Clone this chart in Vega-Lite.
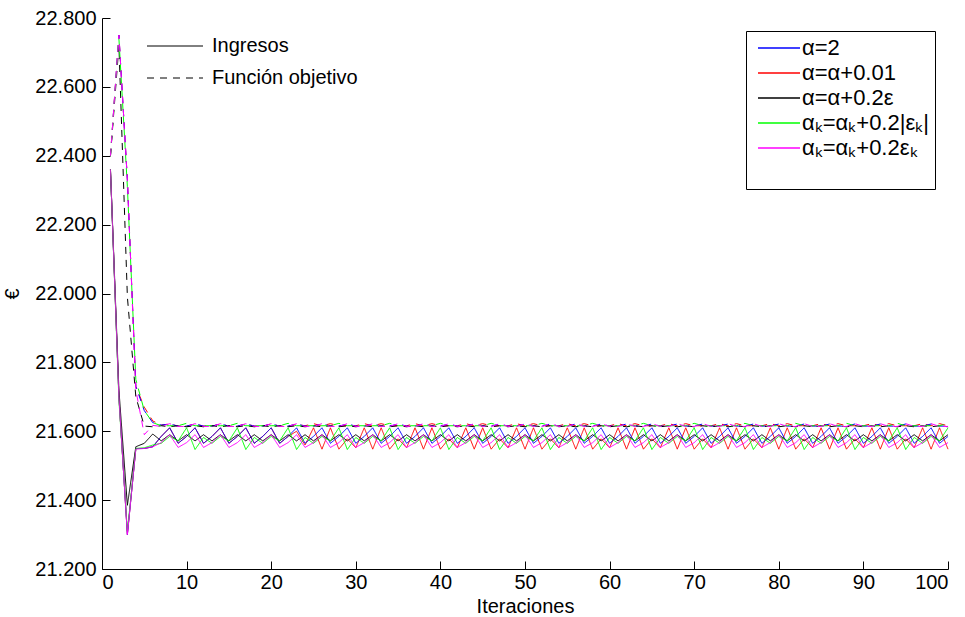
{
  "$schema": "https://vega.github.io/schema/vega-lite/v6.json",
  "width": 846,
  "height": 551,
  "autosize": {"type": "none"},
  "padding": {"left": 102, "top": 18, "right": 17, "bottom": 48},
  "background": "white",
  "config": {
    "view": {"stroke": null},
    "font": "Liberation Sans",
    "axis": {"domainColor": "black", "tickColor": "black", "labelColor": "black", "titleColor": "black", "labelFont": "Liberation Sans", "titleFont": "Liberation Sans", "labelFontSize": 20, "titleFontSize": 20, "titleFontWeight": "normal", "grid": false}
  },
  "data": {"values": [
    {"i":1,"b":22.36,"r":22.36,"k":22.36,"g":22.36,"m":22.36,"B":22.4,"R":22.4,"K":22.4,"G":22.4,"M":22.4},
    {"i":2,"b":21.7,"r":21.7,"k":21.72,"g":21.69,"m":21.7,"B":22.75,"R":22.75,"K":22.72,"G":22.74,"M":22.75},
    {"i":3,"b":21.3,"r":21.3,"k":21.385,"g":21.31,"m":21.3,"B":22.33,"R":22.33,"K":21.99,"G":22.31,"M":22.33},
    {"i":4,"b":21.55,"r":21.55,"k":21.555,"g":21.55,"m":21.548,"B":21.73,"R":21.73,"K":21.7,"G":21.75,"M":21.72},
    {"i":5,"b":21.55,"r":21.55,"k":21.565,"g":21.552,"m":21.55,"B":21.66,"R":21.67,"K":21.615,"G":21.66,"M":21.59},
    {"i":6,"b":21.555,"r":21.555,"k":21.592,"g":21.56,"m":21.555,"B":21.625,"R":21.63,"K":21.613,"G":21.625,"M":21.617},
    {"i":7,"b":21.585,"r":21.585,"k":21.572,"g":21.565,"m":21.567,"B":21.618,"R":21.618,"K":21.616,"G":21.616,"M":21.614},
    {"i":8,"b":21.61,"r":21.61,"k":21.59,"g":21.585,"m":21.59,"B":21.621,"R":21.621,"K":21.613,"G":21.616,"M":21.622},
    {"i":9,"b":21.565,"r":21.565,"k":21.572,"g":21.572,"m":21.553,"B":21.615,"R":21.615,"K":21.616,"G":21.616,"M":21.614},
    {"i":10,"b":21.585,"r":21.585,"k":21.59,"g":21.61,"m":21.567,"B":21.615,"R":21.615,"K":21.613,"G":21.623,"M":21.614},
    {"i":11,"b":21.61,"r":21.61,"k":21.572,"g":21.547,"m":21.59,"B":21.621,"R":21.621,"K":21.616,"G":21.616,"M":21.622},
    {"i":12,"b":21.565,"r":21.565,"k":21.59,"g":21.582,"m":21.553,"B":21.615,"R":21.615,"K":21.613,"G":21.616,"M":21.614},
    {"i":13,"b":21.585,"r":21.585,"k":21.572,"g":21.565,"m":21.567,"B":21.615,"R":21.615,"K":21.616,"G":21.616,"M":21.614},
    {"i":14,"b":21.61,"r":21.61,"k":21.59,"g":21.585,"m":21.59,"B":21.621,"R":21.621,"K":21.613,"G":21.616,"M":21.622},
    {"i":15,"b":21.565,"r":21.565,"k":21.572,"g":21.572,"m":21.553,"B":21.615,"R":21.615,"K":21.616,"G":21.616,"M":21.614},
    {"i":16,"b":21.585,"r":21.585,"k":21.59,"g":21.61,"m":21.567,"B":21.615,"R":21.615,"K":21.613,"G":21.623,"M":21.614},
    {"i":17,"b":21.61,"r":21.61,"k":21.572,"g":21.547,"m":21.59,"B":21.621,"R":21.621,"K":21.616,"G":21.616,"M":21.622},
    {"i":18,"b":21.565,"r":21.565,"k":21.59,"g":21.582,"m":21.553,"B":21.615,"R":21.615,"K":21.613,"G":21.616,"M":21.614},
    {"i":19,"b":21.585,"r":21.585,"k":21.572,"g":21.565,"m":21.567,"B":21.615,"R":21.615,"K":21.616,"G":21.616,"M":21.614},
    {"i":20,"b":21.61,"r":21.61,"k":21.59,"g":21.585,"m":21.59,"B":21.621,"R":21.621,"K":21.613,"G":21.616,"M":21.622},
    {"i":21,"b":21.565,"r":21.565,"k":21.572,"g":21.572,"m":21.553,"B":21.615,"R":21.615,"K":21.616,"G":21.616,"M":21.614},
    {"i":22,"b":21.585,"r":21.585,"k":21.59,"g":21.61,"m":21.567,"B":21.615,"R":21.615,"K":21.613,"G":21.623,"M":21.614},
    {"i":23,"b":21.61,"r":21.6,"k":21.572,"g":21.547,"m":21.59,"B":21.621,"R":21.62,"K":21.616,"G":21.616,"M":21.622},
    {"i":24,"b":21.565,"r":21.56,"k":21.59,"g":21.582,"m":21.553,"B":21.615,"R":21.616,"K":21.613,"G":21.616,"M":21.614},
    {"i":25,"b":21.585,"r":21.61,"k":21.572,"g":21.565,"m":21.567,"B":21.615,"R":21.622,"K":21.616,"G":21.616,"M":21.614},
    {"i":26,"b":21.61,"r":21.548,"k":21.59,"g":21.585,"m":21.59,"B":21.621,"R":21.616,"K":21.613,"G":21.616,"M":21.622},
    {"i":27,"b":21.565,"r":21.61,"k":21.572,"g":21.572,"m":21.553,"B":21.615,"R":21.622,"K":21.616,"G":21.616,"M":21.614},
    {"i":28,"b":21.585,"r":21.548,"k":21.59,"g":21.61,"m":21.567,"B":21.615,"R":21.616,"K":21.613,"G":21.623,"M":21.614},
    {"i":29,"b":21.61,"r":21.578,"k":21.572,"g":21.547,"m":21.59,"B":21.621,"R":21.616,"K":21.616,"G":21.616,"M":21.622},
    {"i":30,"b":21.565,"r":21.552,"k":21.59,"g":21.582,"m":21.553,"B":21.615,"R":21.616,"K":21.613,"G":21.616,"M":21.614},
    {"i":31,"b":21.585,"r":21.61,"k":21.572,"g":21.565,"m":21.567,"B":21.615,"R":21.622,"K":21.616,"G":21.616,"M":21.614},
    {"i":32,"b":21.61,"r":21.548,"k":21.59,"g":21.585,"m":21.59,"B":21.621,"R":21.616,"K":21.613,"G":21.616,"M":21.622},
    {"i":33,"b":21.565,"r":21.61,"k":21.572,"g":21.572,"m":21.553,"B":21.615,"R":21.622,"K":21.616,"G":21.616,"M":21.614},
    {"i":34,"b":21.585,"r":21.548,"k":21.59,"g":21.61,"m":21.567,"B":21.615,"R":21.616,"K":21.613,"G":21.623,"M":21.614},
    {"i":35,"b":21.61,"r":21.578,"k":21.572,"g":21.547,"m":21.59,"B":21.621,"R":21.616,"K":21.616,"G":21.616,"M":21.622},
    {"i":36,"b":21.565,"r":21.552,"k":21.59,"g":21.582,"m":21.553,"B":21.615,"R":21.616,"K":21.613,"G":21.616,"M":21.614},
    {"i":37,"b":21.585,"r":21.61,"k":21.572,"g":21.565,"m":21.567,"B":21.615,"R":21.622,"K":21.616,"G":21.616,"M":21.614},
    {"i":38,"b":21.61,"r":21.548,"k":21.59,"g":21.585,"m":21.59,"B":21.621,"R":21.616,"K":21.613,"G":21.616,"M":21.622},
    {"i":39,"b":21.565,"r":21.61,"k":21.572,"g":21.572,"m":21.553,"B":21.615,"R":21.622,"K":21.616,"G":21.616,"M":21.614},
    {"i":40,"b":21.585,"r":21.548,"k":21.59,"g":21.61,"m":21.567,"B":21.615,"R":21.616,"K":21.613,"G":21.623,"M":21.614},
    {"i":41,"b":21.61,"r":21.578,"k":21.572,"g":21.547,"m":21.59,"B":21.621,"R":21.616,"K":21.616,"G":21.616,"M":21.622},
    {"i":42,"b":21.565,"r":21.552,"k":21.59,"g":21.582,"m":21.553,"B":21.615,"R":21.616,"K":21.613,"G":21.616,"M":21.614},
    {"i":43,"b":21.585,"r":21.61,"k":21.572,"g":21.565,"m":21.567,"B":21.615,"R":21.622,"K":21.616,"G":21.616,"M":21.614},
    {"i":44,"b":21.61,"r":21.548,"k":21.59,"g":21.585,"m":21.59,"B":21.621,"R":21.616,"K":21.613,"G":21.616,"M":21.622},
    {"i":45,"b":21.565,"r":21.61,"k":21.572,"g":21.572,"m":21.553,"B":21.615,"R":21.622,"K":21.616,"G":21.616,"M":21.614},
    {"i":46,"b":21.585,"r":21.548,"k":21.59,"g":21.61,"m":21.567,"B":21.615,"R":21.616,"K":21.613,"G":21.623,"M":21.614},
    {"i":47,"b":21.61,"r":21.578,"k":21.572,"g":21.547,"m":21.59,"B":21.621,"R":21.616,"K":21.616,"G":21.616,"M":21.622},
    {"i":48,"b":21.565,"r":21.552,"k":21.59,"g":21.582,"m":21.553,"B":21.615,"R":21.616,"K":21.613,"G":21.616,"M":21.614},
    {"i":49,"b":21.585,"r":21.61,"k":21.572,"g":21.565,"m":21.567,"B":21.615,"R":21.622,"K":21.616,"G":21.616,"M":21.614},
    {"i":50,"b":21.61,"r":21.548,"k":21.59,"g":21.585,"m":21.59,"B":21.621,"R":21.616,"K":21.613,"G":21.616,"M":21.622},
    {"i":51,"b":21.565,"r":21.61,"k":21.572,"g":21.572,"m":21.553,"B":21.615,"R":21.622,"K":21.616,"G":21.616,"M":21.614},
    {"i":52,"b":21.585,"r":21.548,"k":21.59,"g":21.61,"m":21.567,"B":21.615,"R":21.616,"K":21.613,"G":21.623,"M":21.614},
    {"i":53,"b":21.61,"r":21.578,"k":21.572,"g":21.547,"m":21.59,"B":21.621,"R":21.616,"K":21.616,"G":21.616,"M":21.622},
    {"i":54,"b":21.565,"r":21.552,"k":21.59,"g":21.582,"m":21.553,"B":21.615,"R":21.616,"K":21.613,"G":21.616,"M":21.614},
    {"i":55,"b":21.585,"r":21.61,"k":21.572,"g":21.565,"m":21.567,"B":21.615,"R":21.622,"K":21.616,"G":21.616,"M":21.614},
    {"i":56,"b":21.61,"r":21.548,"k":21.59,"g":21.585,"m":21.59,"B":21.621,"R":21.616,"K":21.613,"G":21.616,"M":21.622},
    {"i":57,"b":21.565,"r":21.61,"k":21.572,"g":21.572,"m":21.553,"B":21.615,"R":21.622,"K":21.616,"G":21.616,"M":21.614},
    {"i":58,"b":21.585,"r":21.548,"k":21.59,"g":21.61,"m":21.567,"B":21.615,"R":21.616,"K":21.613,"G":21.623,"M":21.614},
    {"i":59,"b":21.61,"r":21.578,"k":21.572,"g":21.547,"m":21.59,"B":21.621,"R":21.616,"K":21.616,"G":21.616,"M":21.622},
    {"i":60,"b":21.565,"r":21.552,"k":21.59,"g":21.582,"m":21.553,"B":21.615,"R":21.616,"K":21.613,"G":21.616,"M":21.614},
    {"i":61,"b":21.585,"r":21.61,"k":21.572,"g":21.565,"m":21.567,"B":21.615,"R":21.622,"K":21.616,"G":21.616,"M":21.614},
    {"i":62,"b":21.61,"r":21.548,"k":21.59,"g":21.585,"m":21.59,"B":21.621,"R":21.616,"K":21.613,"G":21.616,"M":21.622},
    {"i":63,"b":21.565,"r":21.61,"k":21.572,"g":21.572,"m":21.553,"B":21.615,"R":21.622,"K":21.616,"G":21.616,"M":21.614},
    {"i":64,"b":21.585,"r":21.548,"k":21.59,"g":21.61,"m":21.567,"B":21.615,"R":21.616,"K":21.613,"G":21.623,"M":21.614},
    {"i":65,"b":21.61,"r":21.578,"k":21.572,"g":21.547,"m":21.59,"B":21.621,"R":21.616,"K":21.616,"G":21.616,"M":21.622},
    {"i":66,"b":21.565,"r":21.552,"k":21.59,"g":21.582,"m":21.553,"B":21.615,"R":21.616,"K":21.613,"G":21.616,"M":21.614},
    {"i":67,"b":21.585,"r":21.61,"k":21.572,"g":21.565,"m":21.567,"B":21.615,"R":21.622,"K":21.616,"G":21.616,"M":21.614},
    {"i":68,"b":21.61,"r":21.548,"k":21.59,"g":21.585,"m":21.59,"B":21.621,"R":21.616,"K":21.613,"G":21.616,"M":21.622},
    {"i":69,"b":21.565,"r":21.61,"k":21.572,"g":21.572,"m":21.553,"B":21.615,"R":21.622,"K":21.616,"G":21.616,"M":21.614},
    {"i":70,"b":21.585,"r":21.548,"k":21.59,"g":21.61,"m":21.567,"B":21.615,"R":21.616,"K":21.613,"G":21.623,"M":21.614},
    {"i":71,"b":21.61,"r":21.578,"k":21.572,"g":21.547,"m":21.59,"B":21.621,"R":21.616,"K":21.616,"G":21.616,"M":21.622},
    {"i":72,"b":21.565,"r":21.552,"k":21.59,"g":21.582,"m":21.553,"B":21.615,"R":21.616,"K":21.613,"G":21.616,"M":21.614},
    {"i":73,"b":21.585,"r":21.61,"k":21.572,"g":21.565,"m":21.567,"B":21.615,"R":21.622,"K":21.616,"G":21.616,"M":21.614},
    {"i":74,"b":21.61,"r":21.548,"k":21.59,"g":21.585,"m":21.59,"B":21.621,"R":21.616,"K":21.613,"G":21.616,"M":21.622},
    {"i":75,"b":21.565,"r":21.61,"k":21.572,"g":21.572,"m":21.553,"B":21.615,"R":21.622,"K":21.616,"G":21.616,"M":21.614},
    {"i":76,"b":21.585,"r":21.548,"k":21.59,"g":21.61,"m":21.567,"B":21.615,"R":21.616,"K":21.613,"G":21.623,"M":21.614},
    {"i":77,"b":21.61,"r":21.578,"k":21.572,"g":21.547,"m":21.59,"B":21.621,"R":21.616,"K":21.616,"G":21.616,"M":21.622},
    {"i":78,"b":21.565,"r":21.552,"k":21.59,"g":21.582,"m":21.553,"B":21.615,"R":21.616,"K":21.613,"G":21.616,"M":21.614},
    {"i":79,"b":21.585,"r":21.61,"k":21.572,"g":21.565,"m":21.567,"B":21.615,"R":21.622,"K":21.616,"G":21.616,"M":21.614},
    {"i":80,"b":21.61,"r":21.548,"k":21.59,"g":21.585,"m":21.59,"B":21.621,"R":21.616,"K":21.613,"G":21.616,"M":21.622},
    {"i":81,"b":21.565,"r":21.61,"k":21.572,"g":21.572,"m":21.553,"B":21.615,"R":21.622,"K":21.616,"G":21.616,"M":21.614},
    {"i":82,"b":21.585,"r":21.548,"k":21.59,"g":21.61,"m":21.567,"B":21.615,"R":21.616,"K":21.613,"G":21.623,"M":21.614},
    {"i":83,"b":21.61,"r":21.578,"k":21.572,"g":21.547,"m":21.59,"B":21.621,"R":21.616,"K":21.616,"G":21.616,"M":21.622},
    {"i":84,"b":21.565,"r":21.552,"k":21.59,"g":21.582,"m":21.553,"B":21.615,"R":21.616,"K":21.613,"G":21.616,"M":21.614},
    {"i":85,"b":21.585,"r":21.61,"k":21.572,"g":21.565,"m":21.567,"B":21.615,"R":21.622,"K":21.616,"G":21.616,"M":21.614},
    {"i":86,"b":21.61,"r":21.548,"k":21.59,"g":21.585,"m":21.59,"B":21.621,"R":21.616,"K":21.613,"G":21.616,"M":21.622},
    {"i":87,"b":21.565,"r":21.61,"k":21.572,"g":21.572,"m":21.553,"B":21.615,"R":21.622,"K":21.616,"G":21.616,"M":21.614},
    {"i":88,"b":21.585,"r":21.548,"k":21.59,"g":21.61,"m":21.567,"B":21.615,"R":21.616,"K":21.613,"G":21.623,"M":21.614},
    {"i":89,"b":21.61,"r":21.578,"k":21.572,"g":21.547,"m":21.59,"B":21.621,"R":21.616,"K":21.616,"G":21.616,"M":21.622},
    {"i":90,"b":21.565,"r":21.552,"k":21.59,"g":21.582,"m":21.553,"B":21.615,"R":21.616,"K":21.613,"G":21.616,"M":21.614},
    {"i":91,"b":21.585,"r":21.61,"k":21.572,"g":21.565,"m":21.567,"B":21.615,"R":21.622,"K":21.616,"G":21.616,"M":21.614},
    {"i":92,"b":21.61,"r":21.548,"k":21.59,"g":21.585,"m":21.59,"B":21.621,"R":21.616,"K":21.613,"G":21.616,"M":21.622},
    {"i":93,"b":21.565,"r":21.61,"k":21.572,"g":21.572,"m":21.553,"B":21.615,"R":21.622,"K":21.616,"G":21.616,"M":21.614},
    {"i":94,"b":21.585,"r":21.548,"k":21.59,"g":21.61,"m":21.567,"B":21.615,"R":21.616,"K":21.613,"G":21.623,"M":21.614},
    {"i":95,"b":21.61,"r":21.578,"k":21.572,"g":21.547,"m":21.59,"B":21.621,"R":21.616,"K":21.616,"G":21.616,"M":21.622},
    {"i":96,"b":21.565,"r":21.552,"k":21.59,"g":21.582,"m":21.553,"B":21.615,"R":21.616,"K":21.613,"G":21.616,"M":21.614},
    {"i":97,"b":21.585,"r":21.61,"k":21.572,"g":21.565,"m":21.567,"B":21.615,"R":21.622,"K":21.616,"G":21.616,"M":21.614},
    {"i":98,"b":21.61,"r":21.548,"k":21.59,"g":21.585,"m":21.59,"B":21.621,"R":21.616,"K":21.613,"G":21.616,"M":21.622},
    {"i":99,"b":21.565,"r":21.61,"k":21.572,"g":21.572,"m":21.553,"B":21.615,"R":21.622,"K":21.616,"G":21.616,"M":21.614},
    {"i":100,"b":21.585,"r":21.548,"k":21.59,"g":21.61,"m":21.567,"B":21.615,"R":21.616,"K":21.613,"G":21.623,"M":21.614}
  ]},
  "layer": [
    {
      "transform": [{"fold": ["r", "b", "k", "g", "m"], "as": ["s", "v"]}],
      "mark": {"type": "line", "strokeWidth": 1},
      "encoding": {
        "x": {"field": "i", "type": "quantitative", "scale": {"domain": [0, 100], "nice": false}, "axis": {"values": [0,10,20,30,40,50,60,70,80,90,100], "title": "Iteraciones", "tickSize": -8, "labelPadding": 11, "titlePadding": 4}},
        "y": {"field": "v", "type": "quantitative", "scale": {"domain": [21.2, 22.8], "nice": false, "zero": false}, "axis": {"values": [21.2,21.4,21.6,21.8,22.0,22.2,22.4,22.6,22.8], "format": ".3f", "title": "€", "tickSize": -8, "labelPadding": 14, "titlePadding": 12}},
        "color": {"field": "s", "type": "nominal", "scale": {"domain": ["b", "r", "k", "g", "m"], "range": ["#0000ff", "#ff0000", "#000000", "#00ff00", "#ff00ff"]},
          "legend": {"orient": "none", "legendX": 644, "legendY": 13, "title": "\u00a0", "titleOrient": "bottom", "titleFontSize": 24, "titlePadding": 0, "symbolType": "M-3,0H3", "symbolSize": 196, "symbolOffset": 16, "symbolStrokeWidth": 1.6, "labelFont": "Liberation Sans", "labelFontSize": 22, "labelColor": "black", "strokeColor": "black", "fillColor": "white", "padding": 6, "rowPadding": 3, "labelOffset": 12,
            "labelExpr": "datum.label == 'b' ? 'α=2' : datum.label == 'r' ? 'α=α+0.01' : datum.label == 'k' ? 'α=α+0.2ε' : datum.label == 'g' ? 'αₖ=αₖ+0.2|εₖ|' : 'αₖ=αₖ+0.2εₖ'"}},
        "strokeDash": {"datum": "Ingresos", "type": "nominal", "scale": {"domain": ["Ingresos", "Función objetivo"], "range": [[1, 0], [7, 6]]},
          "legend": {"orient": "none", "legendX": 42, "legendY": 18, "title": null, "symbolType": "M-4,0H4", "symbolSize": 196, "symbolOffset": 21, "symbolStrokeColor": "black", "symbolStrokeWidth": 1, "labelFont": "Liberation Sans", "labelFontSize": 20, "labelColor": "black", "padding": 0, "rowPadding": 12, "labelOffset": 27}}
      }
    },
    {
      "transform": [{"fold": ["R", "B", "K", "G", "M"], "as": ["s", "v"]}],
      "mark": {"type": "line", "strokeWidth": 1},
      "encoding": {
        "x": {"field": "i", "type": "quantitative"},
        "y": {"field": "v", "type": "quantitative"},
        "color": {"field": "s", "type": "nominal", "scale": {"domain": ["B", "R", "K", "G", "M"], "range": ["#0000ff", "#ff0000", "#000000", "#00ff00", "#ff00ff"]}, "legend": null},
        "strokeDash": {"datum": "Función objetivo", "type": "nominal"}
      }
    }
  ],
  "resolve": {"scale": {"color": "independent"}}
}
